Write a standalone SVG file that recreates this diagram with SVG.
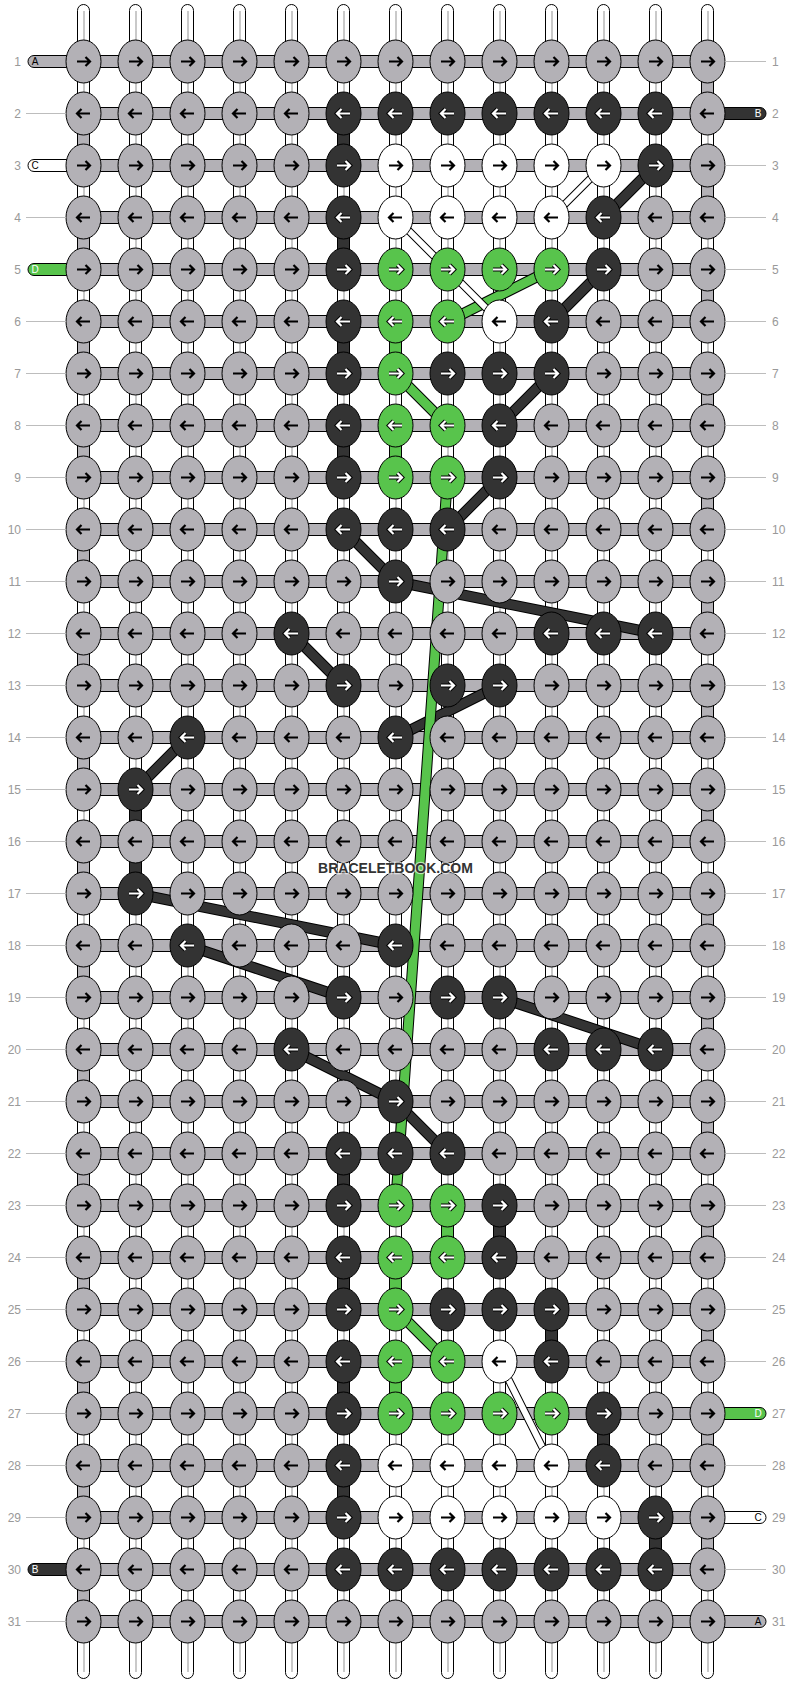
<svg xmlns="http://www.w3.org/2000/svg" xmlns:xlink="http://www.w3.org/1999/xlink" width="792" height="1684" viewBox="0 0 792 1684">
<style>
.t{fill:#fff;stroke:#000;stroke-width:1}
.tl{fill:none;stroke:#c9c9c9;stroke-width:2}
.b{fill:#b3b1b6;stroke:#000;stroke-width:1}
.vk{fill:#333;stroke:#000;stroke-width:1}
.vn{fill:#58c44c;stroke:#000;stroke-width:1}
.tw{fill:#fff;stroke:#000;stroke-width:1}
.g{fill:#b3b1b6}.k{fill:#333}.w{fill:#fff}.n{fill:#58c44c}
.lo{fill:none;stroke:#000;stroke-width:11;stroke-linejoin:round}
.lk{fill:none;stroke:#333;stroke-width:9;stroke-linejoin:round}
.ln{fill:none;stroke:#58c44c;stroke-width:9;stroke-linejoin:round}
.wo{fill:none;stroke:#000;stroke-width:8}
.wi{fill:none;stroke:#fff;stroke-width:6}
.ld{fill:none;stroke:#bdbdbd;stroke-width:1}
.nl{font-family:"Liberation Sans",Arial,sans-serif;font-size:12px;fill:#999;text-anchor:end}
.nr{font-family:"Liberation Sans",Arial,sans-serif;font-size:12px;fill:#999}
.tg{font-family:"Liberation Sans",Arial,sans-serif;font-size:10px;text-anchor:middle}
.wm{font-family:"Liberation Sans",Arial,sans-serif;font-size:14px;font-weight:bold;fill:#333;text-anchor:middle;stroke:#fff;stroke-width:2.5;stroke-opacity:0.6;paint-order:stroke}
</style>
<defs>
<g id="RL"><ellipse rx="17.5" ry="21.5" stroke="#000" stroke-width="1"/><path d="M-6.5 0H6M2-4.5 6.5 0 2 4.5" fill="none" stroke="#000" stroke-width="2.2"/></g>
<g id="LL"><ellipse rx="17.5" ry="21.5" stroke="#000" stroke-width="1"/><path d="M6.5 0H-6M-2-4.5-6.5 0-2 4.5" fill="none" stroke="#000" stroke-width="2.2"/></g>
<g id="RD"><ellipse rx="17.5" ry="21.5" stroke="#000" stroke-width="1"/><path d="M-6.5 0H6M2-4.5 6.5 0 2 4.5" fill="none" stroke="#000" stroke-width="4.2"/><path d="M-6.5 0H6M2-4.5 6.5 0 2 4.5" fill="none" stroke="#fff" stroke-width="2.2"/></g>
<g id="LD"><ellipse rx="17.5" ry="21.5" stroke="#000" stroke-width="1"/><path d="M6.5 0H-6M-2-4.5-6.5 0-2 4.5" fill="none" stroke="#000" stroke-width="4.2"/><path d="M6.5 0H-6M-2-4.5-6.5 0-2 4.5" fill="none" stroke="#fff" stroke-width="2.2"/></g>
</defs>
<rect width="792" height="1684" fill="#fff"/>
<g id="strands">
<rect class="t" x="77.5" y="4.5" width="12" height="1674" rx="6"/>
<rect class="t" x="129.5" y="4.5" width="12" height="1674" rx="6"/>
<rect class="t" x="181.5" y="4.5" width="12" height="1674" rx="6"/>
<rect class="t" x="233.5" y="4.5" width="12" height="1674" rx="6"/>
<rect class="t" x="285.5" y="4.5" width="12" height="1674" rx="6"/>
<rect class="t" x="337.5" y="4.5" width="12" height="1674" rx="6"/>
<rect class="t" x="389.5" y="4.5" width="12" height="1674" rx="6"/>
<rect class="t" x="441.5" y="4.5" width="12" height="1674" rx="6"/>
<rect class="t" x="493.5" y="4.5" width="12" height="1674" rx="6"/>
<rect class="t" x="545.5" y="4.5" width="12" height="1674" rx="6"/>
<rect class="t" x="597.5" y="4.5" width="12" height="1674" rx="6"/>
<rect class="t" x="649.5" y="4.5" width="12" height="1674" rx="6"/>
<rect class="t" x="701.5" y="4.5" width="12" height="1674" rx="6"/>
<path class="tl" d="M84 11V1672M136 11V1672M188 11V1672M240 11V1672M292 11V1672M344 11V1672M396 11V1672M448 11V1672M500 11V1672M552 11V1672M604 11V1672M656 11V1672M708 11V1672"/>
</g>
<g id="rows-bars">
<path class="b" d="M83.5 55.5h624v12h-624zM83.5 107.5h624v12h-624zM83.5 159.5h624v12h-624zM83.5 211.5h624v12h-624zM83.5 263.5h624v12h-624zM83.5 315.5h624v12h-624zM83.5 367.5h624v12h-624zM83.5 419.5h624v12h-624zM83.5 471.5h624v12h-624zM83.5 523.5h624v12h-624zM83.5 575.5h624v12h-624zM83.5 627.5h624v12h-624zM83.5 679.5h624v12h-624zM83.5 731.5h624v12h-624zM83.5 783.5h624v12h-624zM83.5 835.5h624v12h-624zM83.5 887.5h624v12h-624zM83.5 939.5h624v12h-624zM83.5 991.5h624v12h-624zM83.5 1043.5h624v12h-624zM83.5 1095.5h624v12h-624zM83.5 1147.5h624v12h-624zM83.5 1199.5h624v12h-624zM83.5 1251.5h624v12h-624zM83.5 1303.5h624v12h-624zM83.5 1355.5h624v12h-624zM83.5 1407.5h624v12h-624zM83.5 1459.5h624v12h-624zM83.5 1511.5h624v12h-624zM83.5 1563.5h624v12h-624zM83.5 1615.5h624v12h-624z"/>
<path class="b" d="M701.5 61.5h12v52h-12zM701.5 165.5h12v52h-12zM701.5 269.5h12v52h-12zM701.5 373.5h12v52h-12zM701.5 477.5h12v52h-12zM701.5 581.5h12v52h-12zM701.5 685.5h12v52h-12zM701.5 789.5h12v52h-12zM701.5 893.5h12v52h-12zM701.5 997.5h12v52h-12zM701.5 1101.5h12v52h-12zM701.5 1205.5h12v52h-12zM701.5 1309.5h12v52h-12zM701.5 1413.5h12v52h-12zM701.5 1517.5h12v52h-12zM77.5 113.5h12v52h-12zM77.5 217.5h12v52h-12zM77.5 321.5h12v52h-12zM77.5 425.5h12v52h-12zM77.5 529.5h12v52h-12zM77.5 633.5h12v52h-12zM77.5 737.5h12v52h-12zM77.5 841.5h12v52h-12zM77.5 945.5h12v52h-12zM77.5 1049.5h12v52h-12zM77.5 1153.5h12v52h-12zM77.5 1257.5h12v52h-12zM77.5 1361.5h12v52h-12zM77.5 1465.5h12v52h-12zM77.5 1569.5h12v52h-12z"/>
<path class="vk" d="M337.5 113.5h12v52h-12zM337.5 217.5h12v52h-12zM337.5 321.5h12v52h-12zM337.5 425.5h12v52h-12zM129.5 789.5h12v104h-12zM337.5 1153.5h12v52h-12zM493.5 1205.5h12v52h-12zM337.5 1257.5h12v52h-12zM545.5 1309.5h12v52h-12zM337.5 1361.5h12v52h-12zM597.5 1413.5h12v52h-12zM337.5 1465.5h12v52h-12zM649.5 1517.5h12v52h-12z"/>
<path class="vn" d="M389.5 321.5h12v52h-12zM389.5 425.5h12v52h-12zM441.5 1205.5h12v52h-12zM389.5 1257.5h12v52h-12zM389.5 1361.5h12v52h-12z"/>
</g>
<g id="thread-tags">
<g id="tag-A-left"><path class="b" d="M84 55.5H34A6 6 0 0 0 34 67.5H84z"/><text class="tg" x="35" y="65.1" fill="#000">A</text></g>
<g id="tag-C-left"><path class="tw" d="M84 159.5H34A6 6 0 0 0 34 171.5H84z"/><text class="tg" x="35" y="169.1" fill="#000">C</text></g>
<g id="tag-D-left"><path class="vn" d="M84 263.5H34A6 6 0 0 0 34 275.5H84z"/><text class="tg" x="35" y="273.1" fill="#fff">D</text></g>
<g id="tag-B-left"><path class="vk" d="M84 1563.5H34A6 6 0 0 0 34 1575.5H84z"/><text class="tg" x="35" y="1573.1" fill="#fff">B</text></g>
<g id="tag-B-right"><path class="vk" d="M707 107.5H760A6 6 0 0 1 760 119.5H707z"/><text class="tg" x="758" y="117.1" fill="#fff">B</text></g>
<g id="tag-D-right"><path class="vn" d="M707 1407.5H760A6 6 0 0 1 760 1419.5H707z"/><text class="tg" x="758" y="1417.1" fill="#fff">D</text></g>
<g id="tag-C-right"><path class="tw" d="M707 1511.5H760A6 6 0 0 1 760 1523.5H707z"/><text class="tg" x="758" y="1521.1" fill="#000">C</text></g>
<g id="tag-A-right"><path class="b" d="M707 1615.5H760A6 6 0 0 1 760 1627.5H707z"/><text class="tg" x="758" y="1625.1" fill="#000">A</text></g>
</g>
<g id="connectors">
<path class="lo" d="M655.5 165.5L603.5 217.5M603.5 269.5L551.5 321.5M551.5 373.5L499.5 425.5M499.5 477.5L447.5 529.5M343.5 529.5L395.5 581.5L655.5 633.5M291.5 633.5L343.5 685.5M499.5 685.5L395.5 737.5M187.5 737.5L135.5 789.5M135.5 893.5L395.5 945.5M187.5 945.5L343.5 997.5M499.5 997.5L655.5 1049.5M291.5 1049.5L395.5 1101.5L447.5 1153.5"/>
<path class="lk" d="M655.5 165.5L603.5 217.5M603.5 269.5L551.5 321.5M551.5 373.5L499.5 425.5M499.5 477.5L447.5 529.5M343.5 529.5L395.5 581.5L655.5 633.5M291.5 633.5L343.5 685.5M499.5 685.5L395.5 737.5M187.5 737.5L135.5 789.5M135.5 893.5L395.5 945.5M187.5 945.5L343.5 997.5M499.5 997.5L655.5 1049.5M291.5 1049.5L395.5 1101.5L447.5 1153.5"/>
<path class="lo" d="M551.5 269.5L447.5 321.5M395.5 373.5L447.5 425.5M447.5 477.5L395.5 1205.5M395.5 1309.5L447.5 1361.5"/>
<path class="ln" d="M551.5 269.5L447.5 321.5M395.5 373.5L447.5 425.5M447.5 477.5L395.5 1205.5M395.5 1309.5L447.5 1361.5"/>
<path class="wo" d="M603.5 165.5L551.5 217.5M395.5 217.5L499.5 321.5M499.5 1361.5L551.5 1465.5"/>
<path class="wi" d="M603.5 165.5L551.5 217.5M395.5 217.5L499.5 321.5M499.5 1361.5L551.5 1465.5"/>
</g>
<g id="knots">
<g id="row1" transform="translate(0 61.5)">
<g id="k1-1" class="g"><use href="#RL" x="83.5"/></g><g id="k1-2" class="g"><use href="#RL" x="135.5"/></g><g id="k1-3" class="g"><use href="#RL" x="187.5"/></g><g id="k1-4" class="g"><use href="#RL" x="239.5"/></g><g id="k1-5" class="g"><use href="#RL" x="291.5"/></g><g id="k1-6" class="g"><use href="#RL" x="343.5"/></g><g id="k1-7" class="g"><use href="#RL" x="395.5"/></g><g id="k1-8" class="g"><use href="#RL" x="447.5"/></g><g id="k1-9" class="g"><use href="#RL" x="499.5"/></g><g id="k1-10" class="g"><use href="#RL" x="551.5"/></g><g id="k1-11" class="g"><use href="#RL" x="603.5"/></g><g id="k1-12" class="g"><use href="#RL" x="655.5"/></g><g id="k1-13" class="g"><use href="#RL" x="707.5"/></g>
</g>
<g id="row2" transform="translate(0 113.5)">
<g id="k2-1" class="g"><use href="#LL" x="83.5"/></g><g id="k2-2" class="g"><use href="#LL" x="135.5"/></g><g id="k2-3" class="g"><use href="#LL" x="187.5"/></g><g id="k2-4" class="g"><use href="#LL" x="239.5"/></g><g id="k2-5" class="g"><use href="#LL" x="291.5"/></g><g id="k2-6" class="k"><use href="#LD" x="343.5"/></g><g id="k2-7" class="k"><use href="#LD" x="395.5"/></g><g id="k2-8" class="k"><use href="#LD" x="447.5"/></g><g id="k2-9" class="k"><use href="#LD" x="499.5"/></g><g id="k2-10" class="k"><use href="#LD" x="551.5"/></g><g id="k2-11" class="k"><use href="#LD" x="603.5"/></g><g id="k2-12" class="k"><use href="#LD" x="655.5"/></g><g id="k2-13" class="g"><use href="#LL" x="707.5"/></g>
</g>
<g id="row3" transform="translate(0 165.5)">
<g id="k3-1" class="g"><use href="#RL" x="83.5"/></g><g id="k3-2" class="g"><use href="#RL" x="135.5"/></g><g id="k3-3" class="g"><use href="#RL" x="187.5"/></g><g id="k3-4" class="g"><use href="#RL" x="239.5"/></g><g id="k3-5" class="g"><use href="#RL" x="291.5"/></g><g id="k3-6" class="k"><use href="#RD" x="343.5"/></g><g id="k3-7" class="w"><use href="#RL" x="395.5"/></g><g id="k3-8" class="w"><use href="#RL" x="447.5"/></g><g id="k3-9" class="w"><use href="#RL" x="499.5"/></g><g id="k3-10" class="w"><use href="#RL" x="551.5"/></g><g id="k3-11" class="w"><use href="#RL" x="603.5"/></g><g id="k3-12" class="k"><use href="#RD" x="655.5"/></g><g id="k3-13" class="g"><use href="#RL" x="707.5"/></g>
</g>
<g id="row4" transform="translate(0 217.5)">
<g id="k4-1" class="g"><use href="#LL" x="83.5"/></g><g id="k4-2" class="g"><use href="#LL" x="135.5"/></g><g id="k4-3" class="g"><use href="#LL" x="187.5"/></g><g id="k4-4" class="g"><use href="#LL" x="239.5"/></g><g id="k4-5" class="g"><use href="#LL" x="291.5"/></g><g id="k4-6" class="k"><use href="#LD" x="343.5"/></g><g id="k4-7" class="w"><use href="#LL" x="395.5"/></g><g id="k4-8" class="w"><use href="#LL" x="447.5"/></g><g id="k4-9" class="w"><use href="#LL" x="499.5"/></g><g id="k4-10" class="w"><use href="#LL" x="551.5"/></g><g id="k4-11" class="k"><use href="#LD" x="603.5"/></g><g id="k4-12" class="g"><use href="#LL" x="655.5"/></g><g id="k4-13" class="g"><use href="#LL" x="707.5"/></g>
</g>
<g id="row5" transform="translate(0 269.5)">
<g id="k5-1" class="g"><use href="#RL" x="83.5"/></g><g id="k5-2" class="g"><use href="#RL" x="135.5"/></g><g id="k5-3" class="g"><use href="#RL" x="187.5"/></g><g id="k5-4" class="g"><use href="#RL" x="239.5"/></g><g id="k5-5" class="g"><use href="#RL" x="291.5"/></g><g id="k5-6" class="k"><use href="#RD" x="343.5"/></g><g id="k5-7" class="n"><use href="#RD" x="395.5"/></g><g id="k5-8" class="n"><use href="#RD" x="447.5"/></g><g id="k5-9" class="n"><use href="#RD" x="499.5"/></g><g id="k5-10" class="n"><use href="#RD" x="551.5"/></g><g id="k5-11" class="k"><use href="#RD" x="603.5"/></g><g id="k5-12" class="g"><use href="#RL" x="655.5"/></g><g id="k5-13" class="g"><use href="#RL" x="707.5"/></g>
</g>
<g id="row6" transform="translate(0 321.5)">
<g id="k6-1" class="g"><use href="#LL" x="83.5"/></g><g id="k6-2" class="g"><use href="#LL" x="135.5"/></g><g id="k6-3" class="g"><use href="#LL" x="187.5"/></g><g id="k6-4" class="g"><use href="#LL" x="239.5"/></g><g id="k6-5" class="g"><use href="#LL" x="291.5"/></g><g id="k6-6" class="k"><use href="#LD" x="343.5"/></g><g id="k6-7" class="n"><use href="#LD" x="395.5"/></g><g id="k6-8" class="n"><use href="#LD" x="447.5"/></g><g id="k6-9" class="w"><use href="#LL" x="499.5"/></g><g id="k6-10" class="k"><use href="#LD" x="551.5"/></g><g id="k6-11" class="g"><use href="#LL" x="603.5"/></g><g id="k6-12" class="g"><use href="#LL" x="655.5"/></g><g id="k6-13" class="g"><use href="#LL" x="707.5"/></g>
</g>
<g id="row7" transform="translate(0 373.5)">
<g id="k7-1" class="g"><use href="#RL" x="83.5"/></g><g id="k7-2" class="g"><use href="#RL" x="135.5"/></g><g id="k7-3" class="g"><use href="#RL" x="187.5"/></g><g id="k7-4" class="g"><use href="#RL" x="239.5"/></g><g id="k7-5" class="g"><use href="#RL" x="291.5"/></g><g id="k7-6" class="k"><use href="#RD" x="343.5"/></g><g id="k7-7" class="n"><use href="#RD" x="395.5"/></g><g id="k7-8" class="k"><use href="#RD" x="447.5"/></g><g id="k7-9" class="k"><use href="#RD" x="499.5"/></g><g id="k7-10" class="k"><use href="#RD" x="551.5"/></g><g id="k7-11" class="g"><use href="#RL" x="603.5"/></g><g id="k7-12" class="g"><use href="#RL" x="655.5"/></g><g id="k7-13" class="g"><use href="#RL" x="707.5"/></g>
</g>
<g id="row8" transform="translate(0 425.5)">
<g id="k8-1" class="g"><use href="#LL" x="83.5"/></g><g id="k8-2" class="g"><use href="#LL" x="135.5"/></g><g id="k8-3" class="g"><use href="#LL" x="187.5"/></g><g id="k8-4" class="g"><use href="#LL" x="239.5"/></g><g id="k8-5" class="g"><use href="#LL" x="291.5"/></g><g id="k8-6" class="k"><use href="#LD" x="343.5"/></g><g id="k8-7" class="n"><use href="#LD" x="395.5"/></g><g id="k8-8" class="n"><use href="#LD" x="447.5"/></g><g id="k8-9" class="k"><use href="#LD" x="499.5"/></g><g id="k8-10" class="g"><use href="#LL" x="551.5"/></g><g id="k8-11" class="g"><use href="#LL" x="603.5"/></g><g id="k8-12" class="g"><use href="#LL" x="655.5"/></g><g id="k8-13" class="g"><use href="#LL" x="707.5"/></g>
</g>
<g id="row9" transform="translate(0 477.5)">
<g id="k9-1" class="g"><use href="#RL" x="83.5"/></g><g id="k9-2" class="g"><use href="#RL" x="135.5"/></g><g id="k9-3" class="g"><use href="#RL" x="187.5"/></g><g id="k9-4" class="g"><use href="#RL" x="239.5"/></g><g id="k9-5" class="g"><use href="#RL" x="291.5"/></g><g id="k9-6" class="k"><use href="#RD" x="343.5"/></g><g id="k9-7" class="n"><use href="#RD" x="395.5"/></g><g id="k9-8" class="n"><use href="#RD" x="447.5"/></g><g id="k9-9" class="k"><use href="#RD" x="499.5"/></g><g id="k9-10" class="g"><use href="#RL" x="551.5"/></g><g id="k9-11" class="g"><use href="#RL" x="603.5"/></g><g id="k9-12" class="g"><use href="#RL" x="655.5"/></g><g id="k9-13" class="g"><use href="#RL" x="707.5"/></g>
</g>
<g id="row10" transform="translate(0 529.5)">
<g id="k10-1" class="g"><use href="#LL" x="83.5"/></g><g id="k10-2" class="g"><use href="#LL" x="135.5"/></g><g id="k10-3" class="g"><use href="#LL" x="187.5"/></g><g id="k10-4" class="g"><use href="#LL" x="239.5"/></g><g id="k10-5" class="g"><use href="#LL" x="291.5"/></g><g id="k10-6" class="k"><use href="#LD" x="343.5"/></g><g id="k10-7" class="k"><use href="#LD" x="395.5"/></g><g id="k10-8" class="k"><use href="#LD" x="447.5"/></g><g id="k10-9" class="g"><use href="#LL" x="499.5"/></g><g id="k10-10" class="g"><use href="#LL" x="551.5"/></g><g id="k10-11" class="g"><use href="#LL" x="603.5"/></g><g id="k10-12" class="g"><use href="#LL" x="655.5"/></g><g id="k10-13" class="g"><use href="#LL" x="707.5"/></g>
</g>
<g id="row11" transform="translate(0 581.5)">
<g id="k11-1" class="g"><use href="#RL" x="83.5"/></g><g id="k11-2" class="g"><use href="#RL" x="135.5"/></g><g id="k11-3" class="g"><use href="#RL" x="187.5"/></g><g id="k11-4" class="g"><use href="#RL" x="239.5"/></g><g id="k11-5" class="g"><use href="#RL" x="291.5"/></g><g id="k11-6" class="g"><use href="#RL" x="343.5"/></g><g id="k11-7" class="k"><use href="#RD" x="395.5"/></g><g id="k11-8" class="g"><use href="#RL" x="447.5"/></g><g id="k11-9" class="g"><use href="#RL" x="499.5"/></g><g id="k11-10" class="g"><use href="#RL" x="551.5"/></g><g id="k11-11" class="g"><use href="#RL" x="603.5"/></g><g id="k11-12" class="g"><use href="#RL" x="655.5"/></g><g id="k11-13" class="g"><use href="#RL" x="707.5"/></g>
</g>
<g id="row12" transform="translate(0 633.5)">
<g id="k12-1" class="g"><use href="#LL" x="83.5"/></g><g id="k12-2" class="g"><use href="#LL" x="135.5"/></g><g id="k12-3" class="g"><use href="#LL" x="187.5"/></g><g id="k12-4" class="g"><use href="#LL" x="239.5"/></g><g id="k12-5" class="k"><use href="#LD" x="291.5"/></g><g id="k12-6" class="g"><use href="#LL" x="343.5"/></g><g id="k12-7" class="g"><use href="#LL" x="395.5"/></g><g id="k12-8" class="g"><use href="#LL" x="447.5"/></g><g id="k12-9" class="g"><use href="#LL" x="499.5"/></g><g id="k12-10" class="k"><use href="#LD" x="551.5"/></g><g id="k12-11" class="k"><use href="#LD" x="603.5"/></g><g id="k12-12" class="k"><use href="#LD" x="655.5"/></g><g id="k12-13" class="g"><use href="#LL" x="707.5"/></g>
</g>
<g id="row13" transform="translate(0 685.5)">
<g id="k13-1" class="g"><use href="#RL" x="83.5"/></g><g id="k13-2" class="g"><use href="#RL" x="135.5"/></g><g id="k13-3" class="g"><use href="#RL" x="187.5"/></g><g id="k13-4" class="g"><use href="#RL" x="239.5"/></g><g id="k13-5" class="g"><use href="#RL" x="291.5"/></g><g id="k13-6" class="k"><use href="#RD" x="343.5"/></g><g id="k13-7" class="g"><use href="#RL" x="395.5"/></g><g id="k13-8" class="k"><use href="#RD" x="447.5"/></g><g id="k13-9" class="k"><use href="#RD" x="499.5"/></g><g id="k13-10" class="g"><use href="#RL" x="551.5"/></g><g id="k13-11" class="g"><use href="#RL" x="603.5"/></g><g id="k13-12" class="g"><use href="#RL" x="655.5"/></g><g id="k13-13" class="g"><use href="#RL" x="707.5"/></g>
</g>
<g id="row14" transform="translate(0 737.5)">
<g id="k14-1" class="g"><use href="#LL" x="83.5"/></g><g id="k14-2" class="g"><use href="#LL" x="135.5"/></g><g id="k14-3" class="k"><use href="#LD" x="187.5"/></g><g id="k14-4" class="g"><use href="#LL" x="239.5"/></g><g id="k14-5" class="g"><use href="#LL" x="291.5"/></g><g id="k14-6" class="g"><use href="#LL" x="343.5"/></g><g id="k14-7" class="k"><use href="#LD" x="395.5"/></g><g id="k14-8" class="g"><use href="#LL" x="447.5"/></g><g id="k14-9" class="g"><use href="#LL" x="499.5"/></g><g id="k14-10" class="g"><use href="#LL" x="551.5"/></g><g id="k14-11" class="g"><use href="#LL" x="603.5"/></g><g id="k14-12" class="g"><use href="#LL" x="655.5"/></g><g id="k14-13" class="g"><use href="#LL" x="707.5"/></g>
</g>
<g id="row15" transform="translate(0 789.5)">
<g id="k15-1" class="g"><use href="#RL" x="83.5"/></g><g id="k15-2" class="k"><use href="#RD" x="135.5"/></g><g id="k15-3" class="g"><use href="#RL" x="187.5"/></g><g id="k15-4" class="g"><use href="#RL" x="239.5"/></g><g id="k15-5" class="g"><use href="#RL" x="291.5"/></g><g id="k15-6" class="g"><use href="#RL" x="343.5"/></g><g id="k15-7" class="g"><use href="#RL" x="395.5"/></g><g id="k15-8" class="g"><use href="#RL" x="447.5"/></g><g id="k15-9" class="g"><use href="#RL" x="499.5"/></g><g id="k15-10" class="g"><use href="#RL" x="551.5"/></g><g id="k15-11" class="g"><use href="#RL" x="603.5"/></g><g id="k15-12" class="g"><use href="#RL" x="655.5"/></g><g id="k15-13" class="g"><use href="#RL" x="707.5"/></g>
</g>
<g id="row16" transform="translate(0 841.5)">
<g id="k16-1" class="g"><use href="#LL" x="83.5"/></g><g id="k16-2" class="g"><use href="#LL" x="135.5"/></g><g id="k16-3" class="g"><use href="#LL" x="187.5"/></g><g id="k16-4" class="g"><use href="#LL" x="239.5"/></g><g id="k16-5" class="g"><use href="#LL" x="291.5"/></g><g id="k16-6" class="g"><use href="#LL" x="343.5"/></g><g id="k16-7" class="g"><use href="#LL" x="395.5"/></g><g id="k16-8" class="g"><use href="#LL" x="447.5"/></g><g id="k16-9" class="g"><use href="#LL" x="499.5"/></g><g id="k16-10" class="g"><use href="#LL" x="551.5"/></g><g id="k16-11" class="g"><use href="#LL" x="603.5"/></g><g id="k16-12" class="g"><use href="#LL" x="655.5"/></g><g id="k16-13" class="g"><use href="#LL" x="707.5"/></g>
</g>
<g id="row17" transform="translate(0 893.5)">
<g id="k17-1" class="g"><use href="#RL" x="83.5"/></g><g id="k17-2" class="k"><use href="#RD" x="135.5"/></g><g id="k17-3" class="g"><use href="#RL" x="187.5"/></g><g id="k17-4" class="g"><use href="#RL" x="239.5"/></g><g id="k17-5" class="g"><use href="#RL" x="291.5"/></g><g id="k17-6" class="g"><use href="#RL" x="343.5"/></g><g id="k17-7" class="g"><use href="#RL" x="395.5"/></g><g id="k17-8" class="g"><use href="#RL" x="447.5"/></g><g id="k17-9" class="g"><use href="#RL" x="499.5"/></g><g id="k17-10" class="g"><use href="#RL" x="551.5"/></g><g id="k17-11" class="g"><use href="#RL" x="603.5"/></g><g id="k17-12" class="g"><use href="#RL" x="655.5"/></g><g id="k17-13" class="g"><use href="#RL" x="707.5"/></g>
</g>
<g id="row18" transform="translate(0 945.5)">
<g id="k18-1" class="g"><use href="#LL" x="83.5"/></g><g id="k18-2" class="g"><use href="#LL" x="135.5"/></g><g id="k18-3" class="k"><use href="#LD" x="187.5"/></g><g id="k18-4" class="g"><use href="#LL" x="239.5"/></g><g id="k18-5" class="g"><use href="#LL" x="291.5"/></g><g id="k18-6" class="g"><use href="#LL" x="343.5"/></g><g id="k18-7" class="k"><use href="#LD" x="395.5"/></g><g id="k18-8" class="g"><use href="#LL" x="447.5"/></g><g id="k18-9" class="g"><use href="#LL" x="499.5"/></g><g id="k18-10" class="g"><use href="#LL" x="551.5"/></g><g id="k18-11" class="g"><use href="#LL" x="603.5"/></g><g id="k18-12" class="g"><use href="#LL" x="655.5"/></g><g id="k18-13" class="g"><use href="#LL" x="707.5"/></g>
</g>
<g id="row19" transform="translate(0 997.5)">
<g id="k19-1" class="g"><use href="#RL" x="83.5"/></g><g id="k19-2" class="g"><use href="#RL" x="135.5"/></g><g id="k19-3" class="g"><use href="#RL" x="187.5"/></g><g id="k19-4" class="g"><use href="#RL" x="239.5"/></g><g id="k19-5" class="g"><use href="#RL" x="291.5"/></g><g id="k19-6" class="k"><use href="#RD" x="343.5"/></g><g id="k19-7" class="g"><use href="#RL" x="395.5"/></g><g id="k19-8" class="k"><use href="#RD" x="447.5"/></g><g id="k19-9" class="k"><use href="#RD" x="499.5"/></g><g id="k19-10" class="g"><use href="#RL" x="551.5"/></g><g id="k19-11" class="g"><use href="#RL" x="603.5"/></g><g id="k19-12" class="g"><use href="#RL" x="655.5"/></g><g id="k19-13" class="g"><use href="#RL" x="707.5"/></g>
</g>
<g id="row20" transform="translate(0 1049.5)">
<g id="k20-1" class="g"><use href="#LL" x="83.5"/></g><g id="k20-2" class="g"><use href="#LL" x="135.5"/></g><g id="k20-3" class="g"><use href="#LL" x="187.5"/></g><g id="k20-4" class="g"><use href="#LL" x="239.5"/></g><g id="k20-5" class="k"><use href="#LD" x="291.5"/></g><g id="k20-6" class="g"><use href="#LL" x="343.5"/></g><g id="k20-7" class="g"><use href="#LL" x="395.5"/></g><g id="k20-8" class="g"><use href="#LL" x="447.5"/></g><g id="k20-9" class="g"><use href="#LL" x="499.5"/></g><g id="k20-10" class="k"><use href="#LD" x="551.5"/></g><g id="k20-11" class="k"><use href="#LD" x="603.5"/></g><g id="k20-12" class="k"><use href="#LD" x="655.5"/></g><g id="k20-13" class="g"><use href="#LL" x="707.5"/></g>
</g>
<g id="row21" transform="translate(0 1101.5)">
<g id="k21-1" class="g"><use href="#RL" x="83.5"/></g><g id="k21-2" class="g"><use href="#RL" x="135.5"/></g><g id="k21-3" class="g"><use href="#RL" x="187.5"/></g><g id="k21-4" class="g"><use href="#RL" x="239.5"/></g><g id="k21-5" class="g"><use href="#RL" x="291.5"/></g><g id="k21-6" class="g"><use href="#RL" x="343.5"/></g><g id="k21-7" class="k"><use href="#RD" x="395.5"/></g><g id="k21-8" class="g"><use href="#RL" x="447.5"/></g><g id="k21-9" class="g"><use href="#RL" x="499.5"/></g><g id="k21-10" class="g"><use href="#RL" x="551.5"/></g><g id="k21-11" class="g"><use href="#RL" x="603.5"/></g><g id="k21-12" class="g"><use href="#RL" x="655.5"/></g><g id="k21-13" class="g"><use href="#RL" x="707.5"/></g>
</g>
<g id="row22" transform="translate(0 1153.5)">
<g id="k22-1" class="g"><use href="#LL" x="83.5"/></g><g id="k22-2" class="g"><use href="#LL" x="135.5"/></g><g id="k22-3" class="g"><use href="#LL" x="187.5"/></g><g id="k22-4" class="g"><use href="#LL" x="239.5"/></g><g id="k22-5" class="g"><use href="#LL" x="291.5"/></g><g id="k22-6" class="k"><use href="#LD" x="343.5"/></g><g id="k22-7" class="k"><use href="#LD" x="395.5"/></g><g id="k22-8" class="k"><use href="#LD" x="447.5"/></g><g id="k22-9" class="g"><use href="#LL" x="499.5"/></g><g id="k22-10" class="g"><use href="#LL" x="551.5"/></g><g id="k22-11" class="g"><use href="#LL" x="603.5"/></g><g id="k22-12" class="g"><use href="#LL" x="655.5"/></g><g id="k22-13" class="g"><use href="#LL" x="707.5"/></g>
</g>
<g id="row23" transform="translate(0 1205.5)">
<g id="k23-1" class="g"><use href="#RL" x="83.5"/></g><g id="k23-2" class="g"><use href="#RL" x="135.5"/></g><g id="k23-3" class="g"><use href="#RL" x="187.5"/></g><g id="k23-4" class="g"><use href="#RL" x="239.5"/></g><g id="k23-5" class="g"><use href="#RL" x="291.5"/></g><g id="k23-6" class="k"><use href="#RD" x="343.5"/></g><g id="k23-7" class="n"><use href="#RD" x="395.5"/></g><g id="k23-8" class="n"><use href="#RD" x="447.5"/></g><g id="k23-9" class="k"><use href="#RD" x="499.5"/></g><g id="k23-10" class="g"><use href="#RL" x="551.5"/></g><g id="k23-11" class="g"><use href="#RL" x="603.5"/></g><g id="k23-12" class="g"><use href="#RL" x="655.5"/></g><g id="k23-13" class="g"><use href="#RL" x="707.5"/></g>
</g>
<g id="row24" transform="translate(0 1257.5)">
<g id="k24-1" class="g"><use href="#LL" x="83.5"/></g><g id="k24-2" class="g"><use href="#LL" x="135.5"/></g><g id="k24-3" class="g"><use href="#LL" x="187.5"/></g><g id="k24-4" class="g"><use href="#LL" x="239.5"/></g><g id="k24-5" class="g"><use href="#LL" x="291.5"/></g><g id="k24-6" class="k"><use href="#LD" x="343.5"/></g><g id="k24-7" class="n"><use href="#LD" x="395.5"/></g><g id="k24-8" class="n"><use href="#LD" x="447.5"/></g><g id="k24-9" class="k"><use href="#LD" x="499.5"/></g><g id="k24-10" class="g"><use href="#LL" x="551.5"/></g><g id="k24-11" class="g"><use href="#LL" x="603.5"/></g><g id="k24-12" class="g"><use href="#LL" x="655.5"/></g><g id="k24-13" class="g"><use href="#LL" x="707.5"/></g>
</g>
<g id="row25" transform="translate(0 1309.5)">
<g id="k25-1" class="g"><use href="#RL" x="83.5"/></g><g id="k25-2" class="g"><use href="#RL" x="135.5"/></g><g id="k25-3" class="g"><use href="#RL" x="187.5"/></g><g id="k25-4" class="g"><use href="#RL" x="239.5"/></g><g id="k25-5" class="g"><use href="#RL" x="291.5"/></g><g id="k25-6" class="k"><use href="#RD" x="343.5"/></g><g id="k25-7" class="n"><use href="#RD" x="395.5"/></g><g id="k25-8" class="k"><use href="#RD" x="447.5"/></g><g id="k25-9" class="k"><use href="#RD" x="499.5"/></g><g id="k25-10" class="k"><use href="#RD" x="551.5"/></g><g id="k25-11" class="g"><use href="#RL" x="603.5"/></g><g id="k25-12" class="g"><use href="#RL" x="655.5"/></g><g id="k25-13" class="g"><use href="#RL" x="707.5"/></g>
</g>
<g id="row26" transform="translate(0 1361.5)">
<g id="k26-1" class="g"><use href="#LL" x="83.5"/></g><g id="k26-2" class="g"><use href="#LL" x="135.5"/></g><g id="k26-3" class="g"><use href="#LL" x="187.5"/></g><g id="k26-4" class="g"><use href="#LL" x="239.5"/></g><g id="k26-5" class="g"><use href="#LL" x="291.5"/></g><g id="k26-6" class="k"><use href="#LD" x="343.5"/></g><g id="k26-7" class="n"><use href="#LD" x="395.5"/></g><g id="k26-8" class="n"><use href="#LD" x="447.5"/></g><g id="k26-9" class="w"><use href="#LL" x="499.5"/></g><g id="k26-10" class="k"><use href="#LD" x="551.5"/></g><g id="k26-11" class="g"><use href="#LL" x="603.5"/></g><g id="k26-12" class="g"><use href="#LL" x="655.5"/></g><g id="k26-13" class="g"><use href="#LL" x="707.5"/></g>
</g>
<g id="row27" transform="translate(0 1413.5)">
<g id="k27-1" class="g"><use href="#RL" x="83.5"/></g><g id="k27-2" class="g"><use href="#RL" x="135.5"/></g><g id="k27-3" class="g"><use href="#RL" x="187.5"/></g><g id="k27-4" class="g"><use href="#RL" x="239.5"/></g><g id="k27-5" class="g"><use href="#RL" x="291.5"/></g><g id="k27-6" class="k"><use href="#RD" x="343.5"/></g><g id="k27-7" class="n"><use href="#RD" x="395.5"/></g><g id="k27-8" class="n"><use href="#RD" x="447.5"/></g><g id="k27-9" class="n"><use href="#RD" x="499.5"/></g><g id="k27-10" class="n"><use href="#RD" x="551.5"/></g><g id="k27-11" class="k"><use href="#RD" x="603.5"/></g><g id="k27-12" class="g"><use href="#RL" x="655.5"/></g><g id="k27-13" class="g"><use href="#RL" x="707.5"/></g>
</g>
<g id="row28" transform="translate(0 1465.5)">
<g id="k28-1" class="g"><use href="#LL" x="83.5"/></g><g id="k28-2" class="g"><use href="#LL" x="135.5"/></g><g id="k28-3" class="g"><use href="#LL" x="187.5"/></g><g id="k28-4" class="g"><use href="#LL" x="239.5"/></g><g id="k28-5" class="g"><use href="#LL" x="291.5"/></g><g id="k28-6" class="k"><use href="#LD" x="343.5"/></g><g id="k28-7" class="w"><use href="#LL" x="395.5"/></g><g id="k28-8" class="w"><use href="#LL" x="447.5"/></g><g id="k28-9" class="w"><use href="#LL" x="499.5"/></g><g id="k28-10" class="w"><use href="#LL" x="551.5"/></g><g id="k28-11" class="k"><use href="#LD" x="603.5"/></g><g id="k28-12" class="g"><use href="#LL" x="655.5"/></g><g id="k28-13" class="g"><use href="#LL" x="707.5"/></g>
</g>
<g id="row29" transform="translate(0 1517.5)">
<g id="k29-1" class="g"><use href="#RL" x="83.5"/></g><g id="k29-2" class="g"><use href="#RL" x="135.5"/></g><g id="k29-3" class="g"><use href="#RL" x="187.5"/></g><g id="k29-4" class="g"><use href="#RL" x="239.5"/></g><g id="k29-5" class="g"><use href="#RL" x="291.5"/></g><g id="k29-6" class="k"><use href="#RD" x="343.5"/></g><g id="k29-7" class="w"><use href="#RL" x="395.5"/></g><g id="k29-8" class="w"><use href="#RL" x="447.5"/></g><g id="k29-9" class="w"><use href="#RL" x="499.5"/></g><g id="k29-10" class="w"><use href="#RL" x="551.5"/></g><g id="k29-11" class="w"><use href="#RL" x="603.5"/></g><g id="k29-12" class="k"><use href="#RD" x="655.5"/></g><g id="k29-13" class="g"><use href="#RL" x="707.5"/></g>
</g>
<g id="row30" transform="translate(0 1569.5)">
<g id="k30-1" class="g"><use href="#LL" x="83.5"/></g><g id="k30-2" class="g"><use href="#LL" x="135.5"/></g><g id="k30-3" class="g"><use href="#LL" x="187.5"/></g><g id="k30-4" class="g"><use href="#LL" x="239.5"/></g><g id="k30-5" class="g"><use href="#LL" x="291.5"/></g><g id="k30-6" class="k"><use href="#LD" x="343.5"/></g><g id="k30-7" class="k"><use href="#LD" x="395.5"/></g><g id="k30-8" class="k"><use href="#LD" x="447.5"/></g><g id="k30-9" class="k"><use href="#LD" x="499.5"/></g><g id="k30-10" class="k"><use href="#LD" x="551.5"/></g><g id="k30-11" class="k"><use href="#LD" x="603.5"/></g><g id="k30-12" class="k"><use href="#LD" x="655.5"/></g><g id="k30-13" class="g"><use href="#LL" x="707.5"/></g>
</g>
<g id="row31" transform="translate(0 1621.5)">
<g id="k31-1" class="g"><use href="#RL" x="83.5"/></g><g id="k31-2" class="g"><use href="#RL" x="135.5"/></g><g id="k31-3" class="g"><use href="#RL" x="187.5"/></g><g id="k31-4" class="g"><use href="#RL" x="239.5"/></g><g id="k31-5" class="g"><use href="#RL" x="291.5"/></g><g id="k31-6" class="g"><use href="#RL" x="343.5"/></g><g id="k31-7" class="g"><use href="#RL" x="395.5"/></g><g id="k31-8" class="g"><use href="#RL" x="447.5"/></g><g id="k31-9" class="g"><use href="#RL" x="499.5"/></g><g id="k31-10" class="g"><use href="#RL" x="551.5"/></g><g id="k31-11" class="g"><use href="#RL" x="603.5"/></g><g id="k31-12" class="g"><use href="#RL" x="655.5"/></g><g id="k31-13" class="g"><use href="#RL" x="707.5"/></g>
</g>
</g>
<g id="row-labels">
<path class="ld" d="M26 113.5H66M26 217.5H66M26 321.5H66M26 373.5H66M26 425.5H66M26 477.5H66M26 529.5H66M26 581.5H66M26 633.5H66M26 685.5H66M26 737.5H66M26 789.5H66M26 841.5H66M26 893.5H66M26 945.5H66M26 997.5H66M26 1049.5H66M26 1101.5H66M26 1153.5H66M26 1205.5H66M26 1257.5H66M26 1309.5H66M26 1361.5H66M26 1413.5H66M26 1465.5H66M26 1517.5H66M26 1621.5H66"/>
<path class="ld" d="M725 61.5H766M725 165.5H766M725 217.5H766M725 269.5H766M725 321.5H766M725 373.5H766M725 425.5H766M725 477.5H766M725 529.5H766M725 581.5H766M725 633.5H766M725 685.5H766M725 737.5H766M725 789.5H766M725 841.5H766M725 893.5H766M725 945.5H766M725 997.5H766M725 1049.5H766M725 1101.5H766M725 1153.5H766M725 1205.5H766M725 1257.5H766M725 1309.5H766M725 1361.5H766M725 1465.5H766M725 1569.5H766"/>
<text class="nl" x="21" y="65.8">1</text><text class="nl" x="21" y="117.8">2</text><text class="nl" x="21" y="169.8">3</text><text class="nl" x="21" y="221.8">4</text><text class="nl" x="21" y="273.8">5</text><text class="nl" x="21" y="325.8">6</text><text class="nl" x="21" y="377.8">7</text><text class="nl" x="21" y="429.8">8</text><text class="nl" x="21" y="481.8">9</text><text class="nl" x="21" y="533.8">10</text><text class="nl" x="21" y="585.8">11</text><text class="nl" x="21" y="637.8">12</text><text class="nl" x="21" y="689.8">13</text><text class="nl" x="21" y="741.8">14</text><text class="nl" x="21" y="793.8">15</text><text class="nl" x="21" y="845.8">16</text><text class="nl" x="21" y="897.8">17</text><text class="nl" x="21" y="949.8">18</text><text class="nl" x="21" y="1001.8">19</text><text class="nl" x="21" y="1053.8">20</text><text class="nl" x="21" y="1105.8">21</text><text class="nl" x="21" y="1157.8">22</text><text class="nl" x="21" y="1209.8">23</text><text class="nl" x="21" y="1261.8">24</text><text class="nl" x="21" y="1313.8">25</text><text class="nl" x="21" y="1365.8">26</text><text class="nl" x="21" y="1417.8">27</text><text class="nl" x="21" y="1469.8">28</text><text class="nl" x="21" y="1521.8">29</text><text class="nl" x="21" y="1573.8">30</text><text class="nl" x="21" y="1625.8">31</text>
<text class="nr" x="772" y="65.8">1</text><text class="nr" x="772" y="117.8">2</text><text class="nr" x="772" y="169.8">3</text><text class="nr" x="772" y="221.8">4</text><text class="nr" x="772" y="273.8">5</text><text class="nr" x="772" y="325.8">6</text><text class="nr" x="772" y="377.8">7</text><text class="nr" x="772" y="429.8">8</text><text class="nr" x="772" y="481.8">9</text><text class="nr" x="772" y="533.8">10</text><text class="nr" x="772" y="585.8">11</text><text class="nr" x="772" y="637.8">12</text><text class="nr" x="772" y="689.8">13</text><text class="nr" x="772" y="741.8">14</text><text class="nr" x="772" y="793.8">15</text><text class="nr" x="772" y="845.8">16</text><text class="nr" x="772" y="897.8">17</text><text class="nr" x="772" y="949.8">18</text><text class="nr" x="772" y="1001.8">19</text><text class="nr" x="772" y="1053.8">20</text><text class="nr" x="772" y="1105.8">21</text><text class="nr" x="772" y="1157.8">22</text><text class="nr" x="772" y="1209.8">23</text><text class="nr" x="772" y="1261.8">24</text><text class="nr" x="772" y="1313.8">25</text><text class="nr" x="772" y="1365.8">26</text><text class="nr" x="772" y="1417.8">27</text><text class="nr" x="772" y="1469.8">28</text><text class="nr" x="772" y="1521.8">29</text><text class="nr" x="772" y="1573.8">30</text><text class="nr" x="772" y="1625.8">31</text>
</g>
<text id="watermark" class="wm" x="395.5" y="872.5">BRACELETBOOK.COM</text>
</svg>
